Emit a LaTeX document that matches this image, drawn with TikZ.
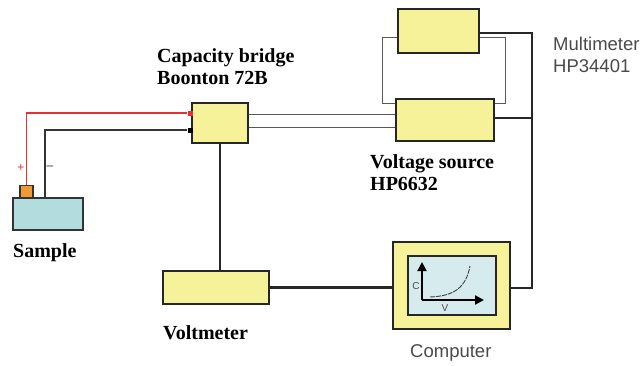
\documentclass[tikz,border=0pt]{standalone}
\usepackage{fontspec}
\setmainfont{Liberation Serif}
\setsansfont{Liberation Sans}
\usepackage{xcolor}
\usetikzlibrary{arrows.meta}
\definecolor{boxyellow}{HTML}{F5F29A}
\definecolor{samplecyan}{HTML}{B2DCDE}
\definecolor{pinorange}{HTML}{EE9B33}
\definecolor{screenblue}{HTML}{D6EBEE}
\definecolor{wirered}{HTML}{E8302E}
\definecolor{labelgray}{HTML}{4A4A4A}

\tikzset{
 ybox/.style={draw=black!85, line width=2.4pt, fill=boxyellow, inner sep=0pt},
 thick wire/.style={line width=2.4pt, draw=black!85},
 thin wire/.style={line width=1pt, draw=black!65},
 serif label/.style={anchor=base west, inner sep=0pt, align=left,
   font=\fontsize{20}{22}\selectfont\bfseries},
 sans label/.style={anchor=base west, inner sep=0pt, align=left, text=labelgray,
   font=\fontsize{18.5}{22}\selectfont\sffamily},
}

\begin{document}
\begin{tikzpicture}[x=1pt,y=-1pt]
 \useasboundingbox (0,0) rectangle (644,365);

 % boxes
 \node[ybox, minimum width=56pt, minimum height=40pt] (bridge) at (220,123) {};
 \node[ybox, minimum width=81pt, minimum height=44pt] (multim) at (438.5,31) {};
 \node[ybox, minimum width=98pt, minimum height=42pt] (vsource) at (445,120) {};
 \node[ybox, minimum width=106pt, minimum height=33pt] (voltm) at (216,287.5) {};
 \node[ybox, minimum width=117pt, minimum height=87pt] (comp) at (451.5,285.5) {};
 \node[draw=black!85, line width=2.4pt, fill=screenblue, minimum width=88pt,
   minimum height=59pt] (screen) at (452,285.5) {};

 % sample
 \node[draw=black!80, line width=1.3pt, fill=samplecyan, minimum width=70pt,
   minimum height=32pt] (sample) at (48,214) {};
 \node[draw=black!80, line width=1.3pt, fill=pinorange, minimum width=13pt,
   minimum height=12pt, anchor=south] (pin) at (26.5,198) {};
 \coordinate (minus) at (45,198);
 \node[fill=wirered, minimum size=5pt, inner sep=0pt] (redpin) at (190,113) {};
 \node[fill=black, minimum size=5pt, inner sep=0pt] (blackpin) at (190,130) {};

 % wires
 \draw[wirered, line width=1.3pt] (pin.north) |- (redpin.west);
 \draw[black!80, line width=1.3pt] (minus) |- (blackpin.west);
 \draw[thick wire] (bridge.south) -- (bridge.south |- voltm.north);
 \draw[thick wire] (voltm.east) -- (voltm.east -| comp.west);
 \coordinate (rail) at (532,288);
 \draw[thick wire] (comp.east |- rail) -- (rail) |- ([yshift=-2pt]multim.east);
 \draw[thick wire] ([yshift=2pt]vsource.east) -- ([yshift=2pt]vsource.east -| rail);
 \draw[thin wire] ([yshift=9pt]bridge.east) -- ([yshift=9pt]bridge.east -| vsource.west);
 \draw[thin wire] ([yshift=-4pt]bridge.east) -- ([yshift=-4pt]bridge.east -| vsource.west);
 \draw[thin wire] ([yshift=-6pt]multim.west) -- ++(-14,0) |- ([yshift=17pt]vsource.west);
 \draw[thin wire] ([yshift=-6pt]multim.east) -- ++(25,0) |- ([yshift=17pt]vsource.east);

 % plot on the screen
 \coordinate (origin) at (422,300);
 \draw[line width=2.2pt, -{Triangle[length=9pt,width=9pt]}] (origin) -- (422,262);
 \draw[line width=2.2pt, -{Triangle[length=9pt,width=9pt]}] (origin) -- (484,300);
 \draw[line width=0.9pt, black!75, dash pattern=on 5pt off 1pt]
   (430,297) .. controls (455,296) and (466,287) .. (470,266);
 \node[font=\fontsize{10}{10}\selectfont\sffamily, text=labelgray] (clabel) at (416,286) {C};
 \node[font=\fontsize{10}{10}\selectfont\sffamily, text=labelgray] (vlabel) at (445,308) {V};

 % labels
 \node[font=\fontsize{12}{12}\selectfont\sffamily, text=wirered] (plus) at (21,168) {+};
 \node[font=\fontsize{12}{12}\selectfont\sffamily, text=black!80] (minuslabel) at (50,168) {--};
 \node[serif label] (bridgelabel) at (157,84) {Capacity bridge\\Boonton 72B};
 \node[serif label] (vsourcelabel) at (370,190) {Voltage source\\HP6632};
 \node[sans label] (multimlabel) at (553,72) {Multimeter\\HP34401};
 \node[serif label] (samplelabel) at (13,257) {Sample};
 \node[serif label] (voltmlabel) at (163,339) {Voltmeter};
 \node[sans label] (complabel) at (410,357) {Computer};
\end{tikzpicture}
\end{document}
